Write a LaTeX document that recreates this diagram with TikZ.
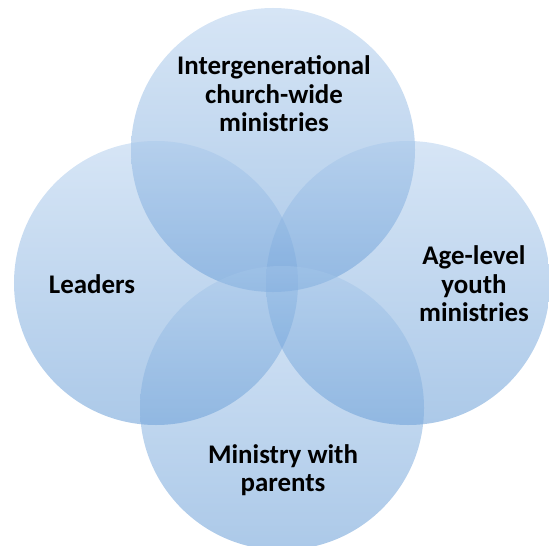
\documentclass[tikz,border=0pt]{standalone}
\usepackage{fontspec}
\setmainfont{Carlito}
\definecolor{ringtop}{RGB}{165,198,234}
\definecolor{ringbot}{RGB}{70,135,205}

\begin{document}
\begin{tikzpicture}[x=1bp, y=-1bp,
  ring/.style={circle, minimum size=284bp, inner sep=0pt, top color=ringtop, bottom color=ringbot, opacity=.45},
  tag/.style={align=center, text=black, font=\fontsize{27}{28.5}\selectfont\bfseries}]

\useasboundingbox (0,0) rectangle (549,546);

\node[ring] (gen) at (273,150)     {};
\node[ring] (lead) at (156,283)    {};
\node[ring] (youth) at (408,283)   {};
\node[ring] (par) at (282,408)     {};

\node[tag] (gen_t) at (274,94)     {Intergenerational\\church-wide\\ministries};
\node[tag] (lead_t) at (92,284)    {Leaders};
\node[tag] (youth_t) at (474,284)  {Age-level\\youth\\ministries};
\node[tag] (par_t) at (283,470)    {Ministry with\\parents};

\end{tikzpicture}
\end{document}
